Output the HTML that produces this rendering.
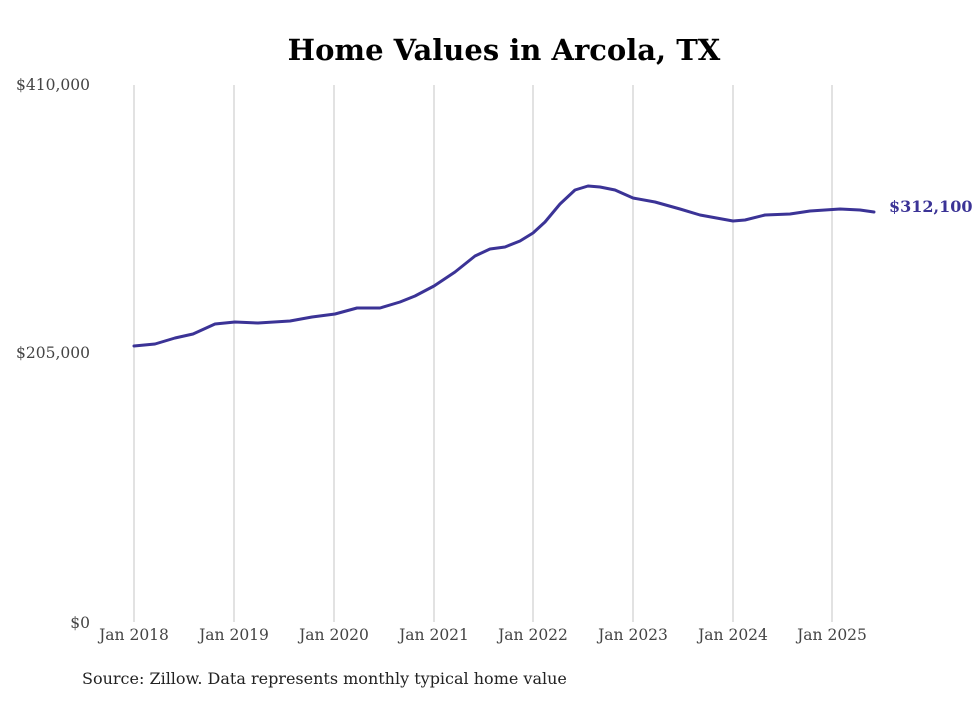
<!DOCTYPE html>
<html><head><meta charset="utf-8"><style>
body{margin:0;background:#fff;width:980px;height:699px;overflow:hidden}
</style></head><body>
<svg width="980" height="699" xmlns="http://www.w3.org/2000/svg" font-family="'DejaVu Serif',serif">
<text x="504" y="60" text-anchor="middle" font-size="29" font-weight="bold" fill="#000">Home Values in Arcola, TX</text>
<g stroke="#c4c4c4" stroke-width="1">
<line x1="134" y1="85" x2="134" y2="622"/><line x1="234" y1="85" x2="234" y2="622"/>
<line x1="334" y1="85" x2="334" y2="622"/><line x1="434" y1="85" x2="434" y2="622"/>
<line x1="533" y1="85" x2="533" y2="622"/><line x1="633" y1="85" x2="633" y2="622"/>
<line x1="733" y1="85" x2="733" y2="622"/><line x1="832" y1="85" x2="832" y2="622"/>
</g>
<g font-size="15.5" fill="#444">
<text x="90" y="90" text-anchor="end">$410,000</text>
<text x="90" y="358" text-anchor="end">$205,000</text>
<text x="90" y="628" text-anchor="end">$0</text>
</g>
<g font-size="15.5" fill="#444" text-anchor="middle">
<text x="134" y="640">Jan 2018</text><text x="234" y="640">Jan 2019</text>
<text x="334" y="640">Jan 2020</text><text x="434" y="640">Jan 2021</text>
<text x="533" y="640">Jan 2022</text><text x="633" y="640">Jan 2023</text>
<text x="733" y="640">Jan 2024</text><text x="832" y="640">Jan 2025</text>
</g>
<polyline fill="none" stroke="#3b3396" stroke-width="3" stroke-linejoin="round" stroke-linecap="round" points="134,346 155,344 175,338 193,334 215,324 235,322 258,323 290,321 312,317 335,314 357,308 380,308 400,302 415,296 434,286 455,272 475,256 490,249 505,247 520,241 533,233 545,222 560,204 575,190 588,186 600,187 615,190 633,198 655,202 680,209 700,215 733,221 745,220 765,215 790,214 810,211 840,209 860,210 874,212"/>
<text x="889" y="212" font-size="16" font-weight="bold" fill="#3b3396">$312,100</text>
<text x="82" y="684" font-size="16" fill="#222">Source: Zillow. Data represents monthly typical home value</text>
</svg>
</body></html>
